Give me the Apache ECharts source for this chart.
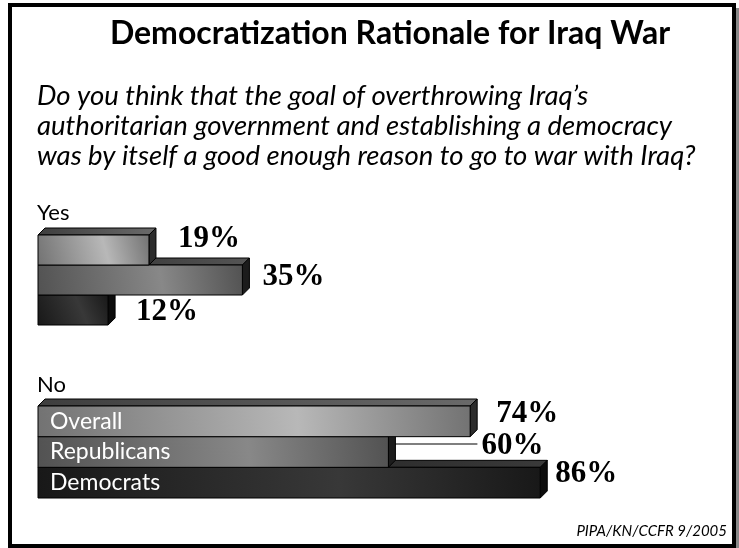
<!DOCTYPE html>
<html>
<head>
<meta charset="utf-8">
<script src="https://cdn.jsdelivr.net/npm/echarts@6/dist/echarts.min.js"></script>
<style>html,body{margin:0;padding:0;background:#fff}#c{width:739px;height:548px}</style>
</head>
<body>
<div id="c"></div>
<script>
// ---- data ----
const categories = ['Overall', 'Republicans', 'Democrats'];
const yesValues = [19, 35, 12];
const noValues = [74, 60, 86];
const groupNames = ['Yes', 'No'];
const titleText = 'Democratization Rationale for Iraq War';
const questionLines = [
  'Do you think that the goal of overthrowing Iraq\u2019s',
  'authoritarian government and establishing a democracy',
  'was by itself a good enough reason to go to war with Iraq?'
];
const sourceText = 'PIPA/KN/CCFR 9/2005';

// ---- styling / layout (not data) ----
const DEPTH = 7;
const faceStyles = [
  { front: ['#727272', '#b8b8b8'], top: ['#3e3e3e', '#6a6a6a'], side: '#2c2c2c' },
  { front: ['#525252', '#888888'], top: ['#2a2a2a', '#555555'], side: '#1c1c1c' },
  { front: ['#181818', '#383838'], top: ['#141414', '#3a3a3a'], side: '#0c0c0c' }
];
const yesLabelShift = [[22, -11], [13, -3], [21, 2]];
const noLabelShift = [[19, -7], [86, -6], [8, -9]];
const noLeader = [false, true, false];
const labelFont = 'Liberation Serif';

function lg(c0, c1) {
  return new echarts.graphic.LinearGradient(0, 1, 1, 0, [
    { offset: 0, color: c0 }, { offset: 0.6, color: c1 }, { offset: 1, color: c0 }
  ]);
}

function makeRender(shifts, leaders) {
  return function (params, api) {
    const v = api.value(0), cat = api.value(1);
    const p0 = api.coord([0, cat]);
    const p1 = api.coord([v, cat]);
    const h = api.size([0, 1])[1];
    const x0 = p0[0], x1 = p1[0];
    const yT = p1[1] - h / 2, yB = p1[1] + h / 2;
    const d = DEPTH;
    const st = faceStyles[cat];
    const children = [
      { type: 'polygon', shape: { points: [[x0, yT], [x0 + d, yT - d], [x1 + d, yT - d], [x1, yT]] },
        style: { fill: new echarts.graphic.LinearGradient(0, 0, 1, 0, [{ offset: 0, color: st.top[0] }, { offset: 1, color: st.top[1] }]), stroke: '#000', lineWidth: 1 } },
      { type: 'polygon', shape: { points: [[x1, yT], [x1 + d, yT - d], [x1 + d, yB - d], [x1, yB]] },
        style: { fill: st.side, stroke: '#000', lineWidth: 1 } },
      { type: 'rect', shape: { x: x0, y: yT, width: x1 - x0, height: h },
        style: { fill: lg(st.front[0], st.front[1]), stroke: '#000', lineWidth: 1 } }
    ];
    const sh = shifts[cat];
    const lx = x1 + d + sh[0], ly = p1[1] + sh[1];
    if (leaders && leaders[cat]) {
      children.push({ type: 'line', shape: { x1: x1 + d, y1: ly - 2, x2: lx - 4, y2: ly - 2 },
        style: { stroke: '#000', lineWidth: 1.2 } });
    }
    children.push({ type: 'text', x: lx, y: ly,
      style: { text: v + '%', fill: '#000', fontSize: 31, fontWeight: 'bold', fontFamily: labelFont,
        align: 'left', verticalAlign: 'middle' } });
    return { type: 'group', children: children };
  };
}

// draw bottom bar first so upper bars overlap it
const order = [2, 1, 0];
const yesData = order.map(i => [yesValues[i], i]);
const noData = order.map(i => [noValues[i], i]);

const chart = echarts.init(document.getElementById('c'), null, { renderer: 'canvas' });
const xAxisBase = { type: 'value', min: 0, max: 100, show: false };
const yAxisBase = { type: 'category', data: categories, inverse: true,
  axisLine: { show: false }, axisTick: { show: false }, splitLine: { show: false } };

chart.setOption({
  animation: false,
  backgroundColor: '#fff',
  grid: [
    { left: 38, width: 584, top: 235, height: 90 },
    { left: 38, width: 584, top: 406, height: 92 }
  ],
  xAxis: [
    Object.assign({ gridIndex: 0 }, xAxisBase),
    Object.assign({ gridIndex: 1 }, xAxisBase)
  ],
  yAxis: [
    Object.assign({ gridIndex: 0, axisLabel: { show: false } }, yAxisBase),
    Object.assign({ gridIndex: 1, z: 10, axisLabel: { show: true, inside: true, margin: 12,
      color: '#fff', fontSize: 23, fontFamily: 'Lato' } }, yAxisBase)
  ],
  series: [
    { type: 'custom', xAxisIndex: 0, yAxisIndex: 0, encode: { x: 0, y: 1 },
      renderItem: makeRender(yesLabelShift, null), data: yesData },
    { type: 'custom', xAxisIndex: 1, yAxisIndex: 1, encode: { x: 0, y: 1 },
      renderItem: makeRender(noLabelShift, noLeader), data: noData }
  ],
  graphic: [
    { type: 'rect', shape: { x: 736, y: 8, width: 3, height: 540 }, style: { fill: '#888' }, z: 0 },
    { type: 'rect', shape: { x: 10, y: 5, width: 724, height: 541 }, style: { fill: 'none', stroke: '#000', lineWidth: 4 }, z: 1 },
    { type: 'text', x: 390, y: 18, style: { text: titleText, fontSize: 32, fontWeight: 'bold', fontFamily: 'Lato',
      fill: '#000', align: 'center', verticalAlign: 'top' } },
    { type: 'text', x: 37, y: 81, style: { text: questionLines.join('\n'), fontSize: 27.5, fontStyle: 'italic',
      fontFamily: 'Lato', fill: '#000', lineHeight: 30, align: 'left', verticalAlign: 'top' } },
    { type: 'text', x: 37, y: 202, style: { text: groupNames[0], fontSize: 22, fontFamily: 'Lato', fill: '#000', verticalAlign: 'top' } },
    { type: 'text', x: 37, y: 374, style: { text: groupNames[1], fontSize: 22, fontFamily: 'Lato', fill: '#000', verticalAlign: 'top' } },
    { type: 'text', x: 727, y: 524, style: { text: sourceText, fontSize: 15, fontStyle: 'italic', fontFamily: 'Lato',
      fill: '#000', align: 'right', verticalAlign: 'top' } }
  ]
});
</script>
</body>
</html>
